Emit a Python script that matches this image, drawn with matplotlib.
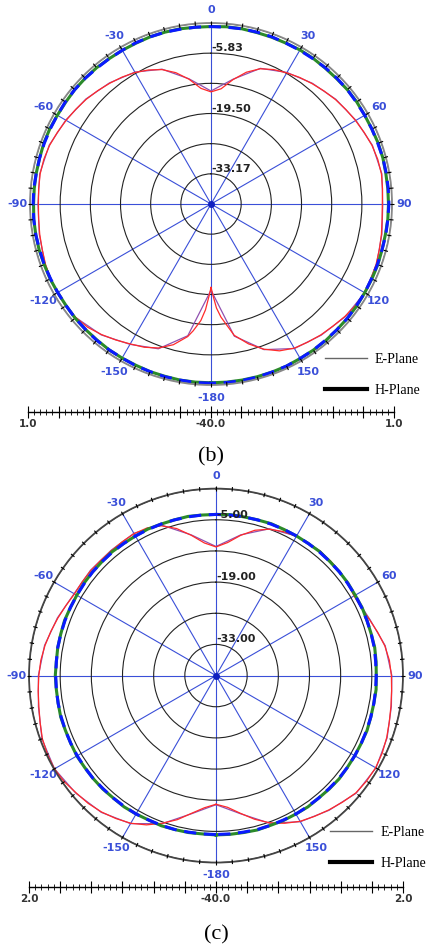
import numpy as np
import matplotlib.pyplot as plt
from matplotlib.lines import Line2D

# angles in degrees, clockwise from the top (negative = left half)

# ---- (b) ----
b_ang_e = [-180, -179, -177, -175, -172, -170, -165, -160, -155, -150, -145, -140,
           -135, -130, -125, -120, -115, -110, -105, -100, -95, -90, -85, -80, -75,
           -70, -65, -60, -55, -50, -45, -40, -35, -30, -25, -20, -15, -10, -5, 0,
           5, 10, 15, 20, 25, 30, 35, 40, 45, 50, 55, 60, 65, 70, 75, 80, 85, 90,
           95, 100, 105, 110, 115, 120, 125, 130, 135, 140, 145, 150, 155, 160,
           165, 170, 172, 175, 177, 179, 180]
b_e_red = [-21.1, -19.5, -16.0, -13.5, -11.0, -9.5, -7.0, -5.3, -4.2, -3.4, -2.4, -1.4,
           -0.5, 0.0, 0.2, 0.2, 0.1, -0.1, -0.4, -0.6, -0.8, -0.9, -0.8, -0.7, -0.8,
           -1.1, -1.6, -2.1, -2.6, -3.1, -3.7, -4.3, -4.9, -5.6, -6.5, -7.6, -9.2, -11.3, -13.7, -14.6,
           -13.8, -11.4, -9.1, -7.4, -6.4, -5.7, -5.0, -4.4, -3.8, -3.2, -2.7, -2.2, -1.7, -1.2, -0.9, -0.8, -1.0, -1.2,
           -1.1, -0.8, -0.5, -0.2, 0.0, 0.1, 0.0, -0.4, -0.9, -1.3, -1.8, -2.3, -3.3, -5.0,
           -7.2, -9.8, -11.8, -14.3, -16.4, -19.6, -21.1]

ang10 = list(range(-180, 181, 10))
b_e_purple = [-20.5, -9.7, -5.1, -3.3, -1.3, 0.0, 0.3, 0.0, -0.5, -0.8, -0.6, -1.0, -2.0,
              -3.0, -4.2, -5.5, -7.5, -11.2, -14.4, -11.3, -7.3, -5.6, -4.3, -3.1, -2.1,
              -1.1, -0.7, -1.1, -0.7, -0.1, 0.2, -0.3, -1.2, -2.2, -4.9, -9.6, -20.5]

ang5 = list(range(-180, 181, 5))
b_h_blue = [0.6, 0.6, 0.5, 0.5, 0.4, 0.4, 0.3, 0.3, 0.3, 0.2, 0.2, 0.1, 0.1, 0.1, 0.2, 0.2,
            0.3, 0.3, 0.3, 0.3, 0.2, 0.2, 0.2, 0.2, 0.2, 0.3, 0.3, 0.3, 0.2, 0.2, 0.2, 0.3,
            0.3, 0.3, 0.2, 0.2, 0.2,
            0.2, 0.3, 0.3, 0.3, 0.2, 0.2, 0.2, 0.3, 0.3, 0.3, 0.2, 0.2, 0.2, 0.2, 0.3, 0.3,
            0.3, 0.3, 0.2, 0.2, 0.1, 0.1, 0.1, 0.2, 0.2, 0.3, 0.3, 0.3, 0.4, 0.4, 0.5, 0.5,
            0.6, 0.6, 0.6, 0.6]
b_h_green = [0.5, 0.5, 0.5, 0.4, 0.4, 0.3, 0.3, 0.3, 0.2, 0.2, 0.2, 0.1, 0.1, 0.2, 0.2, 0.3,
             0.3, 0.3, 0.2, 0.2, 0.2, 0.2, 0.3, 0.3, 0.2, 0.2, 0.3, 0.3, 0.3, 0.2, 0.2, 0.2,
             0.3, 0.3, 0.3, 0.2, 0.2,
             0.3, 0.3, 0.2, 0.2, 0.2, 0.3, 0.3, 0.2, 0.2, 0.3, 0.3, 0.2, 0.2, 0.3, 0.3, 0.2,
             0.2, 0.2, 0.2, 0.1, 0.1, 0.2, 0.2, 0.2, 0.3, 0.3, 0.3, 0.4, 0.4, 0.4, 0.5, 0.5,
             0.5, 0.5, 0.5, 0.5]

# ---- (c) ----
c_e_red = [-11.1, -10.2, -8.6, -6.5, -4.7, -3.0, -1.7, -0.8, 0.0, 0.6, 1.0, 1.6, 1.9,
           1.8, 1.5, 0.9, 0.4, 0.1, -0.2, -0.5, -1.0, -1.6, -2.2, -2.8, -3.3, -3.3,
           -3.3, -3.4, -3.4, -3.3, -3.2, -3.4, -4.2, -5.8, -8.0, -10.1, -11.1,
           -10.0, -8.0, -6.2, -5.0, -4.3, -3.9, -3.7, -3.6, -3.6, -3.7, -3.9, -4.2,
           -4.0, -3.3, -2.4, -1.5, -0.9, -0.6, -0.4, -0.1, 0.3, 0.8, 1.2, 1.4, 1.3,
           1.0, 0.2, -0.6, -1.4, -2.2, -3.4, -4.8, -6.6, -8.6, -10.3, -11.1]
c_e_purple = [-11.0, -8.5, -4.6, -1.6, 0.1, 1.1, 1.9, 1.6, 0.5, -0.1, -0.9, -2.1, -3.2,
              -3.2, -3.3, -3.1, -4.0, -7.9, -11.0, -7.9, -4.9, -3.8, -3.5, -3.6, -4.1,
              -3.2, -1.4, -0.5, 0.0, 0.9, 1.5, 1.1, -0.5, -2.1, -4.7, -8.5, -11.0]
c_h_blue = [-4.3, -4.3, -4.3, -4.2, -4.2, -4.2, -4.1, -4.1, -4.1, -4.1, -4.0, -4.0, -4.0,
            -4.0, -4.0, -4.0, -4.0, -4.0, -4.0, -4.0, -3.9, -3.9, -3.9, -3.9, -3.9, -3.9,
            -3.8, -3.8, -3.8, -3.8, -3.8, -3.8, -3.8, -3.8, -3.8, -3.8, -3.8,
            -3.8, -3.8, -3.8, -3.8, -3.8, -3.8, -3.8, -3.8, -3.8, -3.8, -3.9, -3.9, -3.9,
            -3.9, -3.9, -3.9, -4.0, -4.0, -4.0, -4.0, -4.0, -4.0, -4.0, -4.0, -4.0, -4.0,
            -4.1, -4.1, -4.1, -4.1, -4.2, -4.2, -4.2, -4.3, -4.3, -4.3]
c_h_green = [-4.2, -4.3, -4.2, -4.2, -4.1, -4.2, -4.1, -4.0, -4.1, -4.0, -4.0, -4.0, -3.9,
             -4.0, -4.0, -3.9, -4.0, -4.0, -3.9, -4.0, -3.9, -3.9, -3.8, -3.9, -3.9, -3.8,
             -3.8, -3.8, -3.7, -3.8, -3.8, -3.7, -3.8, -3.8, -3.7, -3.8, -3.8,
             -3.7, -3.8, -3.8, -3.7, -3.8, -3.8, -3.8, -3.7, -3.8, -3.8, -3.8, -3.9, -3.8,
             -3.9, -3.9, -3.8, -3.9, -4.0, -3.9, -4.0, -4.0, -3.9, -4.0, -4.0, -4.0, -3.9,
             -4.0, -4.1, -4.0, -4.1, -4.1, -4.2, -4.1, -4.2, -4.2, -4.2]

b_rings = [-33.17, -26.33, -19.50, -12.67, -5.83, 1.0]
b_ring_labels = ['-33.17', '', '-19.50', '', '-5.83', '']
c_rings = [-33.0, -26.0, -19.0, -12.0, -5.0, 2.0]
c_ring_labels = ['-33.00', '', '-19.00', '', '-5.00', '']

theta_ticks = list(range(0, 360, 30))
theta_labels = ['0', '30', '60', '90', '120', '150', '-180', '-150', '-120', '-90', '-60', '-30']

BLUE = '#3a4fd8'


def pattern(rect, rmax, rings, ring_labels, e_red, e_ang, e_purple, h_blue, h_green, rimcol):
    ax = fig.add_axes(rect, projection='polar')
    ax.set_theta_zero_location('N')
    ax.set_theta_direction(-1)
    ax.set_rlim(-40, rmax)
    ax.set_rgrids(rings, labels=[''] * len(rings))
    ax.set_xticks(np.deg2rad(theta_ticks))
    ax.set_xticklabels(theta_labels, color=BLUE, fontsize=8, fontweight='bold',
                       family='DejaVu Sans')
    ax.tick_params(axis='x', which='major', pad=2, length=0)
    ax.xaxis.grid(True, color=BLUE, lw=0.8)
    ax.yaxis.grid(True, color='#222222', lw=0.8)
    ax.spines['polar'].set_color(rimcol)
    ax.spines['polar'].set_linewidth(1.3)

    # little ticks round the rim, every 5 degrees
    span = rmax + 40
    rim = np.deg2rad(np.arange(0, 360, 5))
    ax.vlines(rim, rmax - span * 0.012, rmax + span * 0.012, colors='k', lw=0.8,
              clip_on=False, zorder=4)

    ax.plot(np.deg2rad(ang10), e_purple, color='#9050b0', lw=0.9)
    ax.plot(np.deg2rad(e_ang), e_red, color='#ff2a2a', lw=0.9)
    ax.plot(np.deg2rad(ang5), h_green, color='#2a8a2a', lw=2.2)
    ax.plot(np.deg2rad(ang5), h_blue, color='#0a1aff', lw=2.2, dashes=(4, 2.5))
    ax.plot([0], [-40], 'o', color='#1020c0', ms=4)

    for r, lab in zip(rings, ring_labels):
        if lab:
            ax.text(0, r, lab, ha='left', va='bottom', fontsize=8, fontweight='bold',
                    color='#222222', family='DejaVu Sans')
    return ax


def scale_bar(left, y, width, rmax):
    sx = fig.add_axes([left, y, width, 0.004])
    half = rmax + 40
    sx.set_xlim(-half, half)
    sx.set_ylim(0, 1)
    for s in ['top', 'left', 'right']:
        sx.spines[s].set_visible(False)
    sx.spines['bottom'].set_linewidth(1.0)
    sx.set_yticks([])
    major = np.linspace(-half, half, 13)
    minor = np.linspace(-half, half, 61)
    sx.set_xticks(major)
    sx.set_xticks(minor, minor=True)
    labs = [''] * 13
    labs[0] = labs[12] = '%.1f' % rmax
    labs[6] = '-40.0'
    sx.set_xticklabels(labs, fontsize=7.5, fontweight='bold', color='#333333',
                       family='DejaVu Sans')
    sx.tick_params(axis='x', which='major', length=8, direction='inout', pad=1)
    sx.tick_params(axis='x', which='minor', length=4, direction='inout')
    sx.patch.set_visible(False)


fig = plt.figure(figsize=(4.27, 9.46), dpi=100)

pattern([0.0703, 0.5930, 0.8478, 0.3827], 1.0, b_rings, b_ring_labels,
        b_e_red, b_ang_e, b_e_purple, b_h_blue, b_h_green, '#888888')
pattern([0.0679, 0.0882, 0.8759, 0.3953], 2.0, c_rings, c_ring_labels,
        c_e_red, ang5, c_e_purple, c_h_blue, c_h_green, '#444444')

scale_bar(0.0656, 0.5645, 0.857, 1.0)
scale_bar(0.0679, 0.0624, 0.8759, 2.0)

handles = [Line2D([], [], color='#666666', lw=1.0), Line2D([], [], color='k', lw=3.0)]
for x0, y0 in [(0.761, 0.6036), (0.773, 0.1036)]:
    fig.legend(handles, ['E-Plane', 'H-Plane'], loc='center left', bbox_to_anchor=(x0, y0),
               frameon=False, prop={'family': 'Liberation Serif', 'size': 10},
               handlelength=3.0, labelspacing=1.3, borderpad=0, borderaxespad=0,
               handletextpad=0.6)

fig.text(211 / 427, 1 - 457 / 946, '(b)', ha='center', va='center', fontsize=16,
         family='Liberation Serif')
fig.text(216 / 427, 1 - 935 / 946, '(c)', ha='center', va='center', fontsize=16,
         family='Liberation Serif')

fig.savefig('out.png', dpi=100)
